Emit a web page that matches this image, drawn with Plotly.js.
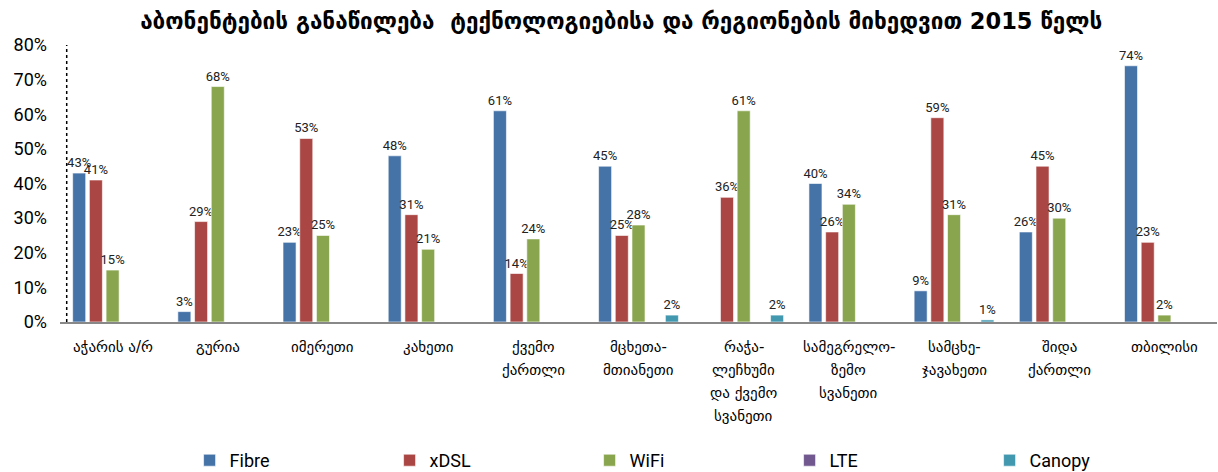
<!DOCTYPE html>
<html>
<head>
<meta charset="utf-8">
<script src="https://cdn.plot.ly/plotly-3.0.1.min.js"></script>
<style>body{margin:0;background:#fff}#chart{width:1218px;height:472px}</style>
</head>
<body>
<div id="chart"></div>
<script>
const categories = [
  "აჭარის ა/რ", "გურია", "იმერეთი", "კახეთი", "ქვემო<br>ქართლი",
  "მცხეთა-<br>მთიანეთი", "რაჭა-<br>ლეჩხუმი<br>და ქვემო<br>სვანეთი",
  "სამეგრელო-<br>ზემო<br>სვანეთი", "სამცხე-<br>ჯავახეთი", "შიდა<br>ქართლი", "თბილისი"
];
const fibre  = [0.43, 0.03, 0.23, 0.48, 0.61, 0.45, 0.00, 0.40, 0.09, 0.26, 0.74];
const xdsl   = [0.41, 0.29, 0.53, 0.31, 0.14, 0.25, 0.36, 0.26, 0.59, 0.45, 0.23];
const wifi   = [0.15, 0.68, 0.25, 0.21, 0.24, 0.28, 0.61, 0.34, 0.31, 0.30, 0.02];
const lte    = [0, 0, 0, 0, 0, 0, 0, 0, 0, 0, 0];
const canopy = [0, 0, 0, 0, 0, 0.02, 0.02, 0, 0.006, 0, 0];
const seriesNames = ["Fibre", "xDSL", "WiFi", "LTE", "Canopy"];
const seriesColors = ["#4572A7", "#AA4643", "#89A54E", "#71588F", "#4198AF"];
const yTicks = [0, 0.1, 0.2, 0.3, 0.4, 0.5, 0.6, 0.7, 0.8];

const narrow = "Roboto, sans-serif";
const geo = "'DejaVu Sans', sans-serif";

const allSeries = [fibre, xdsl, wifi, lte, canopy];
const traces = allSeries.map((vals, i) => ({
  type: "bar",
  name: seriesNames[i],
  x: categories,
  y: vals,
  text: vals.map(v => v > 0 ? Math.round(v * 100) + "%" : ""),
  textposition: "outside",
  constraintext: "none",
  cliponaxis: false,
  textfont: {family: narrow, size: 13, color: "#222"},
  marker: {color: seriesColors[i], line: {color: "rgba(255,255,255,0.6)", width: 1}},
  hoverinfo: "skip"
}));

// category labels drawn line by line at each category position on the x axis
const annotations = [];
categories.forEach(c => {
  c.split("<br>").forEach((line, k) => {
    annotations.push({xref: "x", yref: "paper", x: c, y: 0, text: line, showarrow: false,
      xanchor: "center", yanchor: "middle", yshift: -25 - 23 * k,
      font: {family: geo, size: 15, color: "#000"}});
  });
});

const layout = {
  width: 1218, height: 472,
  margin: {l: 60, r: 1, t: 45, b: 150, autoexpand: false},
  paper_bgcolor: "#fff", plot_bgcolor: "#fff",
  title: {text: "აბონენტების განაწილება  ტექნოლოგიებისა და რეგიონების მიხედვით 2015 წელს",
          font: {family: geo, size: 22.5, color: "#000", weight: "bold"},
          x: 0.51, xanchor: "center", y: 0.955, yanchor: "middle"},
  barmode: "group",
  bargap: 0.206,
  bargroupgap: 0.22,
  showlegend: true,
  legend: {orientation: "h", x: 0.112, xanchor: "left", y: -0.5, yanchor: "middle",
           entrywidth: 155, entrywidthmode: "pixels",
           font: {family: narrow, size: 18, color: "#000"}, traceorder: "normal"},
  xaxis: {type: "category", showline: true, linecolor: "#888", linewidth: 2,
          ticks: "", showgrid: false, showticklabels: false},
  yaxis: {range: [0, 0.8], tickvals: yTicks, tickformat: ".0%", showgrid: false,
          zeroline: false, showline: false, ticks: "",
          tickfont: {family: narrow, size: 18, color: "#000"}, ticklabelstandoff: 12},
  annotations: annotations,
  shapes: [{type: "line", xref: "paper", yref: "paper", x0: 0.0058, x1: 0.0058, y0: 0, y1: 1,
            line: {color: "#000", width: 1.5, dash: "dot"}}]
};

Plotly.newPlot("chart", traces, layout, {displayModeBar: false, staticPlot: true});
</script>
</body>
</html>
